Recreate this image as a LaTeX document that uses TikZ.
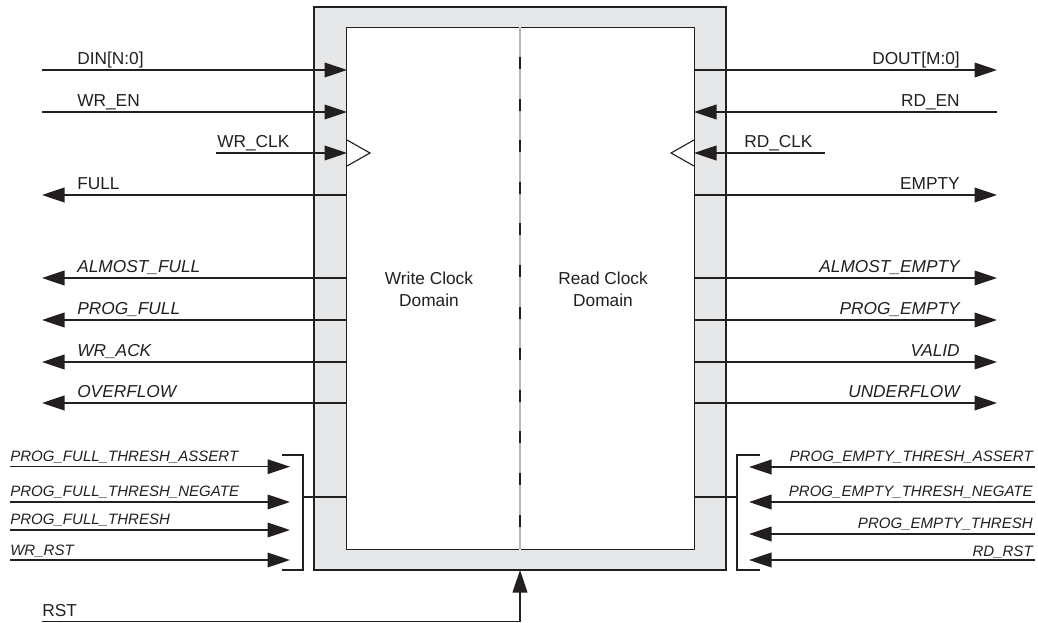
\documentclass[tikz,border=0pt]{standalone}
\usepackage{fontspec}
\setmainfont{Liberation Sans}
\usetikzlibrary{arrows.meta,positioning,calc}
\definecolor{ink}{HTML}{231F20}
\definecolor{shellgray}{HTML}{E6E7E8}
\definecolor{seamgray}{HTML}{B8B8B8}

\begin{document}
\begin{tikzpicture}[x=0.025cm, y=-0.025cm,
    every node/.style={inner sep=0pt, text=ink, font=\fontsize{12.3}{15.6}\selectfont},
    sig/.style={draw=ink, line width=0.8pt},
    tip/.style={-{Triangle[length=16pt,width=10.5pt]}},
    frame/.style={draw=ink, line width=1pt},
    lbl/.style={anchor=base west},
    rlbl/.style={anchor=base east},
    slanted/.style={font=\fontsize{12.3}{15.6}\selectfont\itshape},
    thresh/.style={font=\fontsize{10.7}{13}\selectfont\itshape}]
  % Define dimensions
  \def\px{0.025cm}
  \useasboundingbox (0,0) rectangle (1038,623);

  % Draw FIFO shell and clock domains
  \node[frame, fill=shellgray, minimum width=412*\px, minimum height=563*\px] (shell) at (520,288.5) {};
  \node[fill=white, minimum width=172*\px, minimum height=521*\px] (wr) at (433,288.5) {};
  \node[fill=white, minimum width=173*\px, minimum height=521*\px] (rd) at (607.5,288.5) {};
  \node[align=center] (wrtxt) at (429,289) {Write Clock\\Domain};
  \node[align=center] (rdtxt) at (603,289) {Read Clock\\Domain};
  \draw[frame] (wr.north east) -- (wr.north west) -- (wr.south west) -- (wr.south east);
  \draw[frame] (rd.north west) -- (rd.north east) -- (rd.south east) -- (rd.south west);
  \draw[seamgray, line width=0.5pt] (wr.north east) -- (wr.south east);
  \draw[seamgray, line width=0.5pt] (rd.north west) -- (rd.south west);
  \foreach \i in {0,...,11}
      \draw[ink, line width=1.3pt] (520,57+41.6*\i) -- ++(0,12);

  % Clock inputs
  \draw[sig] (347,140) -- (370,153) -- (347,166);
  \draw[sig] (694,140) -- (671,153) -- (694,166);

  % Write side
  \foreach \y/\nm/\txt in {70/din/{DIN[N:0]}, 112/wren/{WR\_EN}} {
    \coordinate (\nm-src) at (42,\y);
    \coordinate (\nm-pin) at (347,\y);
    \node[lbl] (\nm-lbl) at (77,\y-5.5) {\txt};
    \draw[sig, tip] (\nm-src) -- (\nm-pin);
  }
  \coordinate (wrclk-src) at (216,153);
  \coordinate (wrclk-pin) at (347,153);
  \node[lbl] (wrclk-lbl) at (217,147.5) {WR\_CLK};
  \draw[sig, tip] (wrclk-src) -- (wrclk-pin);
  \coordinate (full-pin) at (347,195);
  \coordinate (full-dst) at (42,195);
  \node[lbl] (full-lbl) at (77,189.5) {FULL};
  \draw[sig, tip] (full-pin) -- (full-dst);
  \foreach \y/\nm/\txt in {278/afull/{ALMOST\_FULL}, 320/pfull/{PROG\_FULL},
                           362/wrack/{WR\_ACK}, 403/ovf/{OVERFLOW}} {
    \coordinate (\nm-pin) at (347,\y);
    \coordinate (\nm-dst) at (42,\y);
    \node[lbl, slanted] (\nm-lbl) at (77,\y-5.5) {\txt};
    \draw[sig, tip] (\nm-pin) -- (\nm-dst);
  }
  \foreach \y/\b/\nm/\txt in {466.7/461/pfta/{PROG\_FULL\_THRESH\_ASSERT},
                              502/496.5/pftn/{PROG\_FULL\_THRESH\_NEGATE},
                              530/524.5/pft/{PROG\_FULL\_THRESH},
                              560/555.5/wrrst/{WR\_RST}} {
    \coordinate (\nm-src) at (10,\y);
    \coordinate (\nm-pin) at (290,\y);
    \node[lbl, thresh] (\nm-lbl) at (10,\b) {\txt};
    \draw[sig, tip] (\nm-src) -- (\nm-pin);
  }
  \draw[sig] (282,455) -- (303,455) -- (303,570) -- (282,570);
  \coordinate (wrbus) at (303,497);
  \coordinate (wrbus-pin) at (347,497);
  \draw[sig] (wrbus) -- (wrbus-pin);

  % Read side
  \coordinate (dout-pin) at (694,70);
  \coordinate (dout-dst) at (997,70);
  \node[rlbl] (dout-lbl) at (960,64.5) {DOUT[M:0]};
  \draw[sig, tip] (dout-pin) -- (dout-dst);
  \coordinate (rden-src) at (997,112);
  \coordinate (rden-pin) at (694,112);
  \node[rlbl] (rden-lbl) at (960,106.5) {RD\_EN};
  \draw[sig, tip] (rden-src) -- (rden-pin);
  \coordinate (rdclk-src) at (825,153);
  \coordinate (rdclk-pin) at (694,153);
  \node[lbl] (rdclk-lbl) at (744,147.5) {RD\_CLK};
  \draw[sig, tip] (rdclk-src) -- (rdclk-pin);
  \coordinate (empty-pin) at (694,195);
  \coordinate (empty-dst) at (997,195);
  \node[rlbl] (empty-lbl) at (960,189.5) {EMPTY};
  \draw[sig, tip] (empty-pin) -- (empty-dst);
  \foreach \y/\nm/\txt in {278/aempty/{ALMOST\_EMPTY}, 320/pempty/{PROG\_EMPTY},
                           362/valid/{VALID}, 403/udf/{UNDERFLOW}} {
    \coordinate (\nm-pin) at (694,\y);
    \coordinate (\nm-dst) at (997,\y);
    \node[rlbl, slanted] (\nm-lbl) at (960,\y-5.5) {\txt};
    \draw[sig, tip] (\nm-pin) -- (\nm-dst);
  }
  \foreach \y/\b/\nm/\txt in {467/461.5/peta/{PROG\_EMPTY\_THRESH\_ASSERT},
                              502/496.5/petn/{PROG\_EMPTY\_THRESH\_NEGATE},
                              534/528.5/pet/{PROG\_EMPTY\_THRESH},
                              560/556/rdrst/{RD\_RST}} {
    \coordinate (\nm-src) at (1035,\y);
    \coordinate (\nm-pin) at (749,\y);
    \node[rlbl, thresh] (\nm-lbl) at (1033,\b) {\txt};
    \draw[sig, tip] (\nm-src) -- (\nm-pin);
  }
  \draw[sig] (760,455) -- (737,455) -- (737,570) -- (760,570);
  \coordinate (rdbus) at (737,497);
  \coordinate (rdbus-pin) at (694,497);
  \draw[sig] (rdbus) -- (rdbus-pin);

  % Common reset
  \coordinate (rst-src) at (42,621.5);
  \coordinate (rst-pin) at (520,570);
  \node[lbl] (rst-lbl) at (42,616.5) {RST};
  \draw[sig, tip] (rst-src) -| (rst-pin);
\end{tikzpicture}
\end{document}
